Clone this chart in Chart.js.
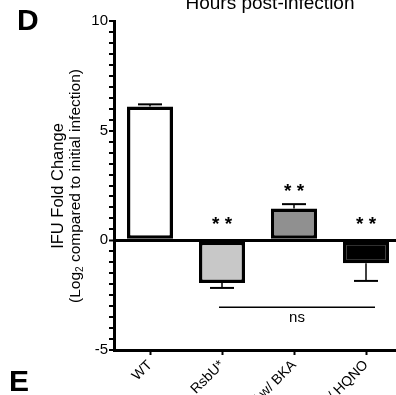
<!DOCTYPE html>
<html>
<head>
<meta charset="utf-8">
<script src="https://cdn.jsdelivr.net/npm/chart.js@4.4.1/dist/chart.umd.min.js"></script>
<style>
  html, body { margin: 0; padding: 0; background: #fff; overflow: hidden; width: 396px; height: 395px; }
  #wrap { position: relative; width: 396px; height: 395px; overflow: hidden; font-family: "Liberation Sans", Arial, sans-serif; }
  #chart { position: absolute; left: 0; top: 0; }
  .panel { position: absolute; font-weight: bold; font-size: 30px; line-height: 30px; color: #000; }
  #title { position: absolute; left: 170px; width: 200px; text-align: center; top: -7px; font-size: 19px; line-height: 19px; white-space: nowrap; }
  #ytitle { position: absolute; left: 66px; top: 186px; width: 260px; transform: translate(-50%, -50%) rotate(-90deg);
            text-align: center; font-size: 15.5px; line-height: 17px; white-space: nowrap; }
  #ytitle .l1 { font-size: 16.5px; }
  #ytitle sub { font-size: 10px; line-height: 0; vertical-align: -3px; }
</style>
</head>
<body>
<div id="wrap">
  <canvas id="chart" width="405" height="425"></canvas>
  <div class="panel" style="left:17px; top:5px;">D</div>
  <div class="panel" style="left:9px; top:366px;">E</div>
  <div id="title">Hours post-infection</div>
  <div id="ytitle"><span class="l1">IFU Fold Change</span><br>(Log<sub>2</sub> compared to initial infection)</div>
</div>
<script>
// Data
const strains = ["WT", "RsbU*", "WT w/ BKA", "WT w/ HQNO"];
const foldChange = [6.1, -1.95, 1.45, -1.05];
const sem = [0.1, 0.22, 0.2, 0.8];
const barColors = ["#ffffff", "#c8c8c8", "#909090", "#000000"];
const signif = ["", "**", "**", "**"];
const yTicks = [-5, 0, 5, 10];

const chartCanvas = document.getElementById("chart");

// one-sided error bars, away from zero
const errorBars = {
    id: "errorBars",
    afterDatasetsDraw(chart) {
        const ctx = chart.ctx;
        const y = chart.scales.y;
        const meta = chart.getDatasetMeta(0);
        ctx.save();
        ctx.strokeStyle = "#000";
        meta.data.forEach((bar, i) => {
            const v = foldChange[i];
            const end = v + Math.sign(v) * sem[i];
            const y0 = y.getPixelForValue(v);
            const y1 = y.getPixelForValue(end);
            ctx.lineWidth = 1.5;
            ctx.beginPath();
            ctx.moveTo(bar.x, y0);
            ctx.lineTo(bar.x, y1);
            ctx.stroke();
            ctx.lineWidth = 2;
            ctx.beginPath();
            ctx.moveTo(bar.x - 12, y1);
            ctx.lineTo(bar.x + 12, y1);
            ctx.stroke();
        });
        ctx.restore();
    }
};

// asterisks and the ns bracket
const annotations = {
    id: "annotations",
    afterDatasetsDraw(chart) {
        const ctx = chart.ctx;
        const x = chart.scales.x;
        const y = chart.scales.y;
        ctx.save();
        ctx.fillStyle = "#000";
        ctx.textAlign = "center";
        ctx.textBaseline = "middle";
        ctx.font = "bold 19px 'Liberation Sans', Arial, sans-serif";
        const starY = [0, 0.9, 2.4, 0.9];
        signif.forEach((s, i) => {
            if (!s) return;
            ctx.fillText("* *", x.getPixelForValue(i), y.getPixelForValue(starY[i]) + 4);
        });
        const ly = y.getPixelForValue(-3.05);
        ctx.strokeStyle = "#000";
        ctx.lineWidth = 1.5;
        ctx.beginPath();
        ctx.moveTo(x.getPixelForValue(1) - 3, ly);
        ctx.lineTo(x.getPixelForValue(3) + 9, ly);
        ctx.stroke();
        ctx.font = "15px 'Liberation Sans', Arial, sans-serif";
        ctx.fillText("ns", (x.getPixelForValue(1) + x.getPixelForValue(3)) / 2 + 3, ly + 11);
        ctx.restore();
    }
};

new Chart(chartCanvas, {
    type: "bar",
    data: {
        labels: strains,
        datasets: [{
            data: foldChange,
            backgroundColor: barColors,
            borderColor: "#000",
            borderWidth: 3.5,
            borderSkipped: false,
            barPercentage: 0.64,
            categoryPercentage: 1
        }]
    },
    options: {
        responsive: false,
        animation: false,
        devicePixelRatio: 1,
        layout: { padding: { top: 21, left: 0, right: 3, bottom: 0 } },
        plugins: { legend: { display: false }, tooltip: { enabled: false } },
        scales: {
            x: {
                afterFit(scale) { scale.height = 425 - 350; },
                border: { color: "#000", width: 3 },
                grid: {
                    display: true, drawOnChartArea: false, offset: false,
                    tickLength: 5, tickWidth: 2, tickColor: "#000"
                },
                ticks: {
                    color: "#000", minRotation: 45, maxRotation: 45, padding: 2,
                    font: { family: "'Liberation Sans', Arial, sans-serif", size: 14 }
                }
            },
            y: {
                min: -5,
                max: 10,
                afterFit(scale) { scale.width = 114; },
                border: { color: "#000", width: 3 },
                grid: {
                    drawOnChartArea: true,
                    color: (c) => c.tick && c.tick.value === 0 ? "#000" : "rgba(0,0,0,0)",
                    lineWidth: (c) => c.tick && c.tick.value === 0 ? 3 : 0,
                    tickColor: "#000", tickWidth: 2, tickLength: 5
                },
                ticks: {
                    stepSize: 0.5, autoSkip: false, color: "#000", padding: 1,
                    font: { family: "'Liberation Sans', Arial, sans-serif", size: 15 },
                    callback: (v) => yTicks.includes(v) ? String(v) : ""
                }
            }
        }
    },
    plugins: [errorBars, annotations]
});
</script>
</body>
</html>
